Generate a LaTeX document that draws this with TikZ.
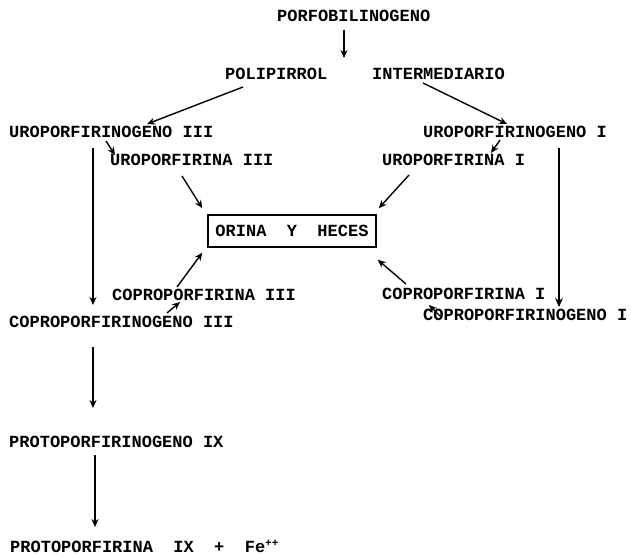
\documentclass[tikz,border=0pt]{standalone}
\usepackage{fontspec}
\setmonofont{Liberation Mono}
\usetikzlibrary{arrows.meta}
\begin{document}
\begin{tikzpicture}[x=1pt,y=-1pt,
  lbl/.style={anchor=base west, inner sep=0pt, font=\fontsize{17}{20}\selectfont\ttfamily\bfseries},
  boxed/.style={draw, line width=1.5pt, minimum width=168pt, minimum height=32pt, inner sep=0pt, anchor=center, font=\fontsize{17}{20}\selectfont\ttfamily\bfseries},
  arr/.style={line width=1.4pt, -{Stealth[length=8pt,width=7pt]}},
  bigarr/.style={line width=2.2pt, -{Stealth[length=9pt,width=8pt]}}
  ]
\useasboundingbox (0,0) rectangle (631,556);
\fill[white] (0,0) rectangle (631,556);

\node[lbl] (porfo) at (277,22) {PORFOBILINOGENO};
\node[lbl] (polip) at (225,80) {POLIPIRROL};
\node[lbl] (inter) at (372,80) {INTERMEDIARIO};
\node[lbl] (urogenA) at (9,138) {UROPORFIRINOGENO III};
\node[lbl] (urogenB) at (423,138) {UROPORFIRINOGENO I};
\node[lbl] (uroA) at (110,165) {UROPORFIRINA III};
\node[lbl] (uroB) at (382,165) {UROPORFIRINA I};
\node[boxed] (box) at (292,231) {ORINA~~Y~~HECES};
\node[lbl] (coproA) at (112,300) {COPROPORFIRINA III};
\node[lbl] (coproB) at (382,299) {COPROPORFIRINA I};
\node[lbl] (coprogenA) at (9,327) {COPROPORFIRINOGENO III};
\node[lbl] (coprogenB) at (423,320) {COPROPORFIRINOGENO I};
\node[lbl] (protogen) at (9,447) {PROTOPORFIRINOGENO IX};
\node[lbl] (proto) at (10,552) {PROTOPORFIRINA~~IX~~+~~Fe\raisebox{6pt}{\fontsize{11}{11}\selectfont ++}};

\draw[arr] ([shift={(67,8)}]porfo.base west) -- ([shift={(-28,-22)}]inter.base west);
\draw[arr] ([shift={(18,7)}]polip.base west) -- ([shift={(138,-14)}]urogenA.base west);
\draw[arr] ([shift={(51,3)}]inter.base west) -- ([shift={(84,-14)}]urogenB.base west);
\draw[arr] ([shift={(97,3)}]urogenA.base west) -- ([shift={(5,-10)}]uroA.base west);
\draw[arr] ([shift={(77,2)}]urogenB.base west) -- ([shift={(109,-12)}]uroB.base west);
\draw[arr] ([shift={(84,10)}]urogenA.base west) -- ([shift={(84,-22)}]coprogenA.base west);
\draw[bigarr] ([shift={(136,10)}]urogenB.base west) -- ([shift={(136,-13)}]coprogenB.base west);
\draw[arr] ([shift={(72,11)}]uroA.base west) -- ([shift={(-5,-6)}]box.north west);
\draw[arr] ([shift={(27,10)}]uroB.base west) -- ([shift={(2,-6)}]box.north east);
\draw[arr] ([shift={(65,-13)}]coproA.base west) -- ([shift={(-5,5)}]box.south west);
\draw[arr] ([shift={(24,-15)}]coproB.base west) -- ([shift={(1,12)}]box.south east);
\draw[arr] ([shift={(158,-14)}]coprogenA.base west) -- ([shift={(68,2)}]coproA.base west);
\draw[arr] ([shift={(17,-4)}]coprogenB.base west) -- ([shift={(47,6)}]coproB.base west);
\draw[arr] ([shift={(84,20)}]coprogenA.base west) -- ([shift={(84,-39)}]protogen.base west);
\draw[arr] ([shift={(86,8)}]protogen.base west) -- ([shift={(85,-25)}]proto.base west);
\end{tikzpicture}
\end{document}
